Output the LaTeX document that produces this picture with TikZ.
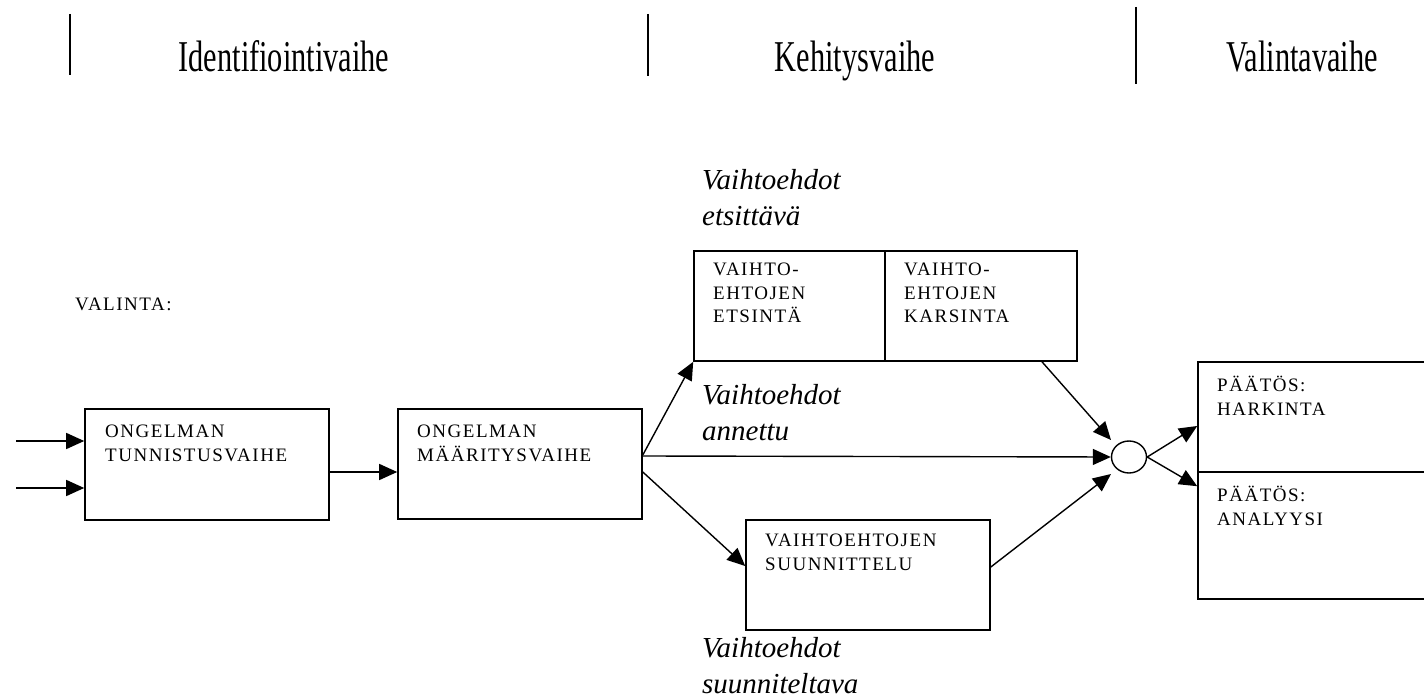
\documentclass[tikz,border=0pt]{standalone}
\usepackage{fontspec}
\usepackage{graphicx}
\setmainfont{Liberation Serif}
\newfontfamily\capsfont[LetterSpace=8]{Liberation Serif}
\usetikzlibrary{arrows.meta,shapes.geometric}

% multi-line nodes below are placed by the baseline of their last line
\tikzset{
  blk/.style={draw, line width=1.6pt, rectangle, inner sep=0pt},
  boxtext/.style={anchor=base west, inner sep=0pt, align=left,
    font=\capsfont\fontsize{19}{23.5}\selectfont},
  flowlabel/.style={anchor=base west, inner sep=0pt, align=left,
    font=\itshape\fontsize{29}{36}\selectfont},
  phase/.style={anchor=base, inner sep=0pt},
  divider/.style={line width=1.4pt},
  conn/.style={line width=1.4pt, -{Triangle[length=18pt,width=16pt]}}
}
\newcommand{\phasename}[1]{\scalebox{0.69}[1]{\fontsize{44}{50}\selectfont #1}}

\begin{document}
\begin{tikzpicture}[x=1pt,y=-1pt]
\clip (0,0) rectangle (1424,700);

% phase headings and separators
\draw[divider] (70,14) -- (70,75);
\draw[divider] (648,14) -- (648,76);
\draw[divider] (1136,7) -- (1136,84);
\node[phase] (ph1) at (284,72) {\phasename{Identifiointivaihe}};
\node[phase] (ph2) at (855,72) {\phasename{Kehitysvaihe}};
\node[phase] (ph3) at (1302,72) {\phasename{Valintavaihe}};

\node[boxtext] (val) at (75,311) {VALINTA:};

% process boxes
\node[blk, minimum width=244pt, minimum height=111pt] (b1) at (207,464.5) {};
\node[blk, minimum width=244pt, minimum height=110pt] (b2) at (520,464) {};
\node[blk, minimum width=191pt, minimum height=110pt] (tb1) at (789.5,306) {};
\node[blk, minimum width=192pt, minimum height=110pt] (tb2) at (981,306) {};
\node[blk, minimum width=244pt, minimum height=110pt] (bb) at (868,575) {};
\node[blk, minimum width=242pt, minimum height=110pt] (rb1) at (1319,417) {};
\node[blk, minimum width=242pt, minimum height=127pt] (rb2) at (1319,535.5) {};
\node[draw, line width=1.4pt, ellipse, inner sep=0pt,
      minimum width=35pt, minimum height=32pt] (circ) at (1129,457) {};

% box texts
\node[boxtext] (b1t) at (105,461) {ONGELMAN\\TUNNISTUSVAIHE};
\node[boxtext] (b2t) at (417,461) {ONGELMAN\\MÄÄRITYSVAIHE};
\node[boxtext] (tb1t) at (713,323) {VAIHTO-\\EHTOJEN\\ETSINTÄ};
\node[boxtext] (tb2t) at (904,323) {VAIHTO-\\EHTOJEN\\KARSINTA};
\node[boxtext] (bbt) at (765,570) {VAIHTOEHTOJEN\\SUUNNITTELU};
\node[boxtext] (rb1t) at (1217,415) {PÄÄTÖS:\\HARKINTA};
\node[boxtext] (rb2t) at (1217,525) {PÄÄTÖS:\\ANALYYSI};

% route labels
\node[flowlabel] (l1) at (702,226) {Vaihtoehdot\\etsittävä};
\node[flowlabel] (l2) at (702,440) {Vaihtoehdot\\annettu};
\node[flowlabel] (l3) at (702,693) {Vaihtoehdot\\suunniteltava};

% connectors
\coordinate (in1) at (16,441);
\coordinate (in2) at (16,488);
\draw[conn] (in1) -- (in1 -| b1.west);
\draw[conn] (in2) -- (in2 -| b1.west);
\draw[conn] ([yshift=-7.5pt]b1.east) -- ([yshift=-7.5pt]b1.east -| b2.west);
\draw[conn] ([yshift=9pt]b2.east) -- (tb1.south west);
\draw[conn] ([yshift=8pt]b2.east) -- (circ.west);
\draw[conn] ([yshift=-8pt]b2.east) -- ([yshift=9pt]bb.west);
\draw[conn] ([xshift=61pt]tb2.south) -- ([shift={(-18pt,17pt)}]circ.center);
\draw[conn] ([yshift=8pt]bb.east) -- ([shift={(-18pt,-17pt)}]circ.center);
\draw[conn] (circ.east) -- ([yshift=-9pt]rb1.west);
\draw[conn] (circ.east) -- ([yshift=-15pt]rb2.north west);
\end{tikzpicture}
\end{document}
